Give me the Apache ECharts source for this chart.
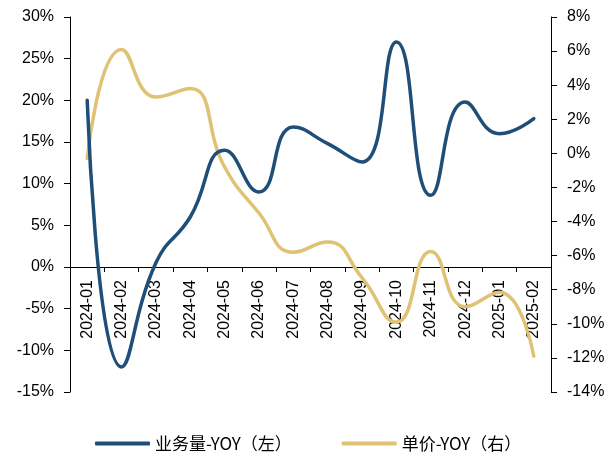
<!DOCTYPE html>
<html>
<head>
<meta charset="utf-8">
<script src="https://cdn.jsdelivr.net/npm/echarts@6/dist/echarts.min.js"></script>
<style>
  html, body { margin: 0; padding: 0; background: #fff; }
  #chart { width: 612px; height: 452px; }
</style>
</head>
<body>
<div id="chart"></div>
<script>
// 月份
var months = ['2024-01', '2024-02', '2024-03', '2024-04', '2024-05', '2024-06', '2024-07',
    '2024-08', '2024-09', '2024-10', '2024-11', '2024-12', '2025-01', '2025-02'];
// 业务量-YOY（左轴, %）
var volumeYoy = [20, -12, 0.5, 6, 14, 9, 16.8, 14.8, 12.6, 27, 8.6, 19.8, 16, 17.8];
// 单价-YOY（右轴, %）
var priceYoy = [-0.3, 6.1, 3.3, 3.8, -0.8, -3.5, -5.8, -5.2, -7.3, -9.9, -5.75, -9, -8.15, -11.9];

var blue = '#1f4e79';
var gold = '#dfc273';
var labelFont = { color: '#000', fontSize: 16, fontFamily: 'Liberation Sans, Arial' };

var chart = echarts.init(document.getElementById('chart'));
var option = {
    animation: false,
    grid: { left: 70, right: 61, top: 17, bottom: 60, containLabel: false, outerBoundsMode: 'none' },
    legend: {
        top: 430,
        left: 90,
        itemWidth: 55,
        itemHeight: 4,
        itemGap: 50,
        icon: 'roundRect',
        textStyle: { color: '#000', fontSize: 17, fontFamily: 'Noto Sans CJK SC' },
        data: ['业务量-YOY（左）', '单价-YOY（右）']
    },
    xAxis: {
        type: 'category',
        data: months,
        boundaryGap: true,
        axisLine: { onZero: true, onZeroAxisIndex: 0, lineStyle: { color: '#000', width: 1 } },
        axisTick: { show: true, length: 5, inside: false, lineStyle: { color: '#000' } },
        // 标签贴着0轴下方
        axisLabel: Object.assign({ rotate: 90, margin: -112, interval: 0 }, labelFont),
        splitLine: { show: false }
    },
    yAxis: [{
        type: 'value',
        min: -15,
        max: 30,
        interval: 5,
        axisLine: { show: true, lineStyle: { color: '#000', width: 1 } },
        axisTick: { show: true, length: 6, lineStyle: { color: '#000' } },
        axisLabel: Object.assign({ margin: 16, formatter: '{value}%' }, labelFont),
        splitLine: { show: false }
    }, {
        type: 'value',
        min: -14,
        max: 8,
        interval: 2,
        position: 'right',
        axisLine: { show: true, lineStyle: { color: '#000', width: 1 } },
        axisTick: { show: true, length: 6, lineStyle: { color: '#000' } },
        axisLabel: Object.assign({ margin: 16, formatter: '{value}%' }, labelFont),
        splitLine: { show: false }
    }],
    series: [{
        name: '业务量-YOY（左）',
        type: 'line',
        yAxisIndex: 0,
        data: volumeYoy,
        smooth: 0.5,
        symbol: 'none',
        z: 3,
        itemStyle: { color: blue },
        lineStyle: { color: blue, width: 3.5, cap: 'round' }
    }, {
        name: '单价-YOY（右）',
        type: 'line',
        yAxisIndex: 1,
        data: priceYoy,
        smooth: 0.5,
        symbol: 'none',
        z: 2,
        itemStyle: { color: gold },
        lineStyle: { color: gold, width: 3.5, cap: 'round' }
    }]
};
chart.setOption(option);
</script>
</body>
</html>
